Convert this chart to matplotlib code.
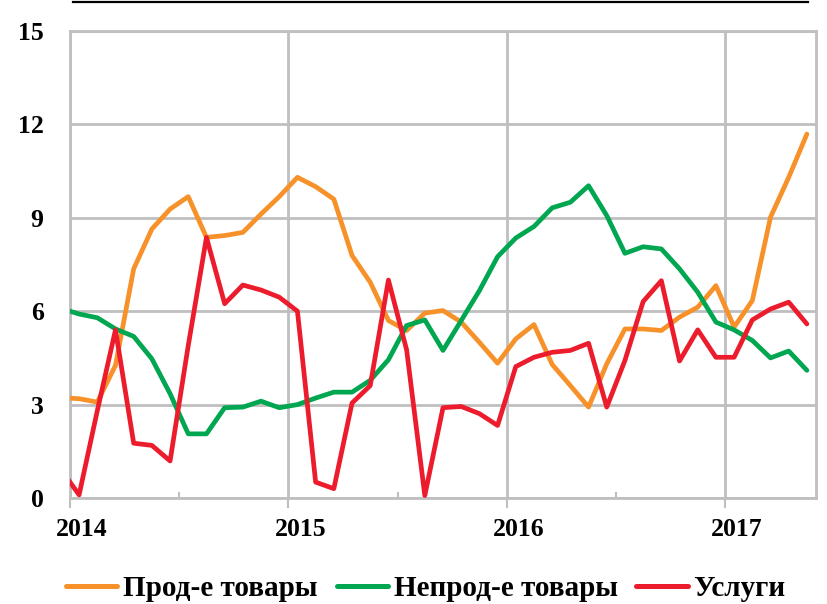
import matplotlib
matplotlib.use("Agg")
import matplotlib.pyplot as plt
import matplotlib.transforms as mtransforms
from matplotlib.lines import Line2D
import numpy as np

# Monthly data, Dec 2013 .. May 2017 (first point lies just left of the visible range)
months = list(range(-1, 41))  # month index, 0 = Jan 2014

food = [3.22, 3.19, 3.08, 4.26, 7.36, 8.64, 9.28, 9.68, 8.37, 8.43, 8.53, 9.12,
        9.68, 10.30, 10.0, 9.60, 7.79, 6.93, 5.70, 5.38, 5.94, 6.02, 5.65, 5.0,
        4.33, 5.11, 5.57, 4.29, 3.61, 2.92, 4.31, 5.43, 5.43, 5.38, 5.81, 6.13,
        6.82, 5.49, 6.34, 9.02, 10.30, 11.69]
nonfood = [6.09, 5.91, 5.79, 5.43, 5.19, 4.47, 3.35, 2.06, 2.06, 2.90, 2.92, 3.11,
           2.90, 3.00, 3.21, 3.40, 3.40, 3.78, 4.44, 5.54, 5.72, 4.74, 5.70, 6.66,
           7.75, 8.35, 8.72, 9.32, 9.50, 10.03, 9.07, 7.86, 8.07, 8.00, 7.36, 6.61,
           5.65, 5.40, 5.06, 4.50, 4.72, 4.10]
services = [0.92, 0.10, 2.80, 5.40, 1.76, 1.69, 1.19, 4.90, 8.37, 6.24, 6.84, 6.68,
            6.45, 6.00, 0.51, 0.30, 3.05, 3.61, 7.00, 4.76, 0.08, 2.90, 2.94, 2.71,
            2.33, 4.22, 4.52, 4.68, 4.74, 4.97, 2.92, 4.42, 6.31, 6.98, 4.40, 5.40,
            4.52, 4.52, 5.72, 6.07, 6.29, 5.59]

series_labels = ["Прод-е товары", "Непрод-е товары", "Услуги"]
year_labels = ["2014", "2015", "2016", "2017"]
y_ticks = [0, 3, 6, 9, 12, 15]

colors = ["#F7912A", "#00A650", "#EC1C2D"]
grid_c = "#BFBFBF"
FONT = "Liberation Serif"
FS = 18.5
LFS = 21

fig = plt.figure(figsize=(8.27, 6.04), dpi=100)
ax = fig.add_axes([70/827, 1-498/604, (816-70)/827, (498-31)/604])

x = np.array(months) + 0.5
for vals, c, lab in zip([food, nonfood, services], colors, series_labels):
    ax.plot(x, vals, color=c, lw=3.4, label=lab, solid_joinstyle="round",
            solid_capstyle="round", zorder=3)

ax.set_xlim(0, 41)
ax.set_ylim(0, 15)

ax.set_yticks(y_ticks)
ax.set_yticklabels([str(v) for v in y_ticks], fontfamily=FONT, fontweight="bold", fontsize=FS)
ax.tick_params(axis="y", length=0, pad=19)

ax.set_xticks([0, 12, 24, 36])
ax.set_xticklabels(year_labels, fontfamily=FONT, fontweight="bold", fontsize=FS)
ax.set_xticks([6, 18, 30], minor=True)
ax.tick_params(axis="x", which="major", length=7.5, width=1.5, color=grid_c, direction="out", pad=7)
ax.tick_params(axis="x", which="minor", length=4.5, width=1.5, color=grid_c, direction="in")
offset = mtransforms.ScaledTranslation(0.12, 0, fig.dpi_scale_trans)
for lbl in ax.get_xticklabels():
    lbl.set_transform(lbl.get_transform() + offset)

ax.grid(True, which="major", color=grid_c, lw=2.0, zorder=1)
ax.set_axisbelow(True)
for s in ax.spines.values():
    s.set_color(grid_c)
    s.set_linewidth(2.0)

leg = fig.legend(loc="center", bbox_to_anchor=(0.515, 1-589/604), ncol=3, frameon=False,
                 prop={"family": FONT, "weight": "bold", "size": LFS},
                 handlelength=1.75, handletextpad=0.2, columnspacing=0.65, borderaxespad=0)
for h in leg.get_lines():
    h.set_solid_capstyle("round")
    h.set_linewidth(3.6)

fig.add_artist(Line2D([73/827, 808/827], [1-2/604, 1-2/604], color="black", lw=1.6))

fig.savefig("out.png", dpi=100)
